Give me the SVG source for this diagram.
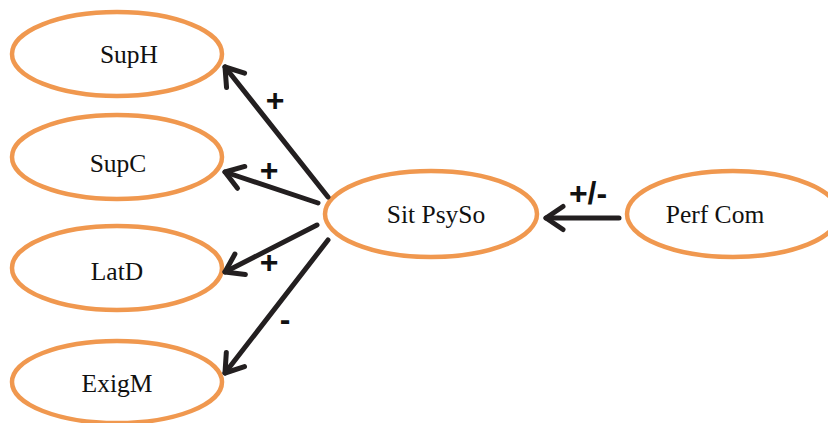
<svg xmlns="http://www.w3.org/2000/svg" width="828" height="423" viewBox="0 0 828 423">
<style>
.node ellipse{fill:#fff;stroke:#F0984F;stroke-width:4.5}
.node text{font-family:"Liberation Serif","Times New Roman",serif;font-size:25.5px;fill:#111;text-anchor:middle}
.conn line{stroke:#231F20;stroke-width:5;stroke-linecap:round}
.lbl{font-family:"Liberation Sans",Arial,sans-serif;font-weight:bold;font-size:32px;fill:#111;text-anchor:middle}
</style>
<defs>
<marker id="ah" markerUnits="userSpaceOnUse" markerWidth="30" markerHeight="30" refX="0" refY="0" viewBox="-25 -15 30 30" orient="auto">
<path d="M-17,-11.5 L0,0 L-17,11.5" fill="none" stroke="#231F20" stroke-width="5" stroke-linecap="round" stroke-linejoin="round"/>
</marker>
</defs>
<rect width="828" height="423" fill="#fff"/>
<g id="SupH" class="node"><ellipse cx="117" cy="54" rx="105" ry="42"/><text x="129" y="63">SupH</text></g>
<g id="SupC" class="node"><ellipse cx="117" cy="157" rx="105" ry="42"/><text x="118" y="172">SupC</text></g>
<g id="LatD" class="node"><ellipse cx="117" cy="268" rx="105" ry="42"/><text x="117" y="280">LatD</text></g>
<g id="ExigM" class="node"><ellipse cx="117" cy="382" rx="105" ry="41"/><text x="117" y="392">ExigM</text></g>
<g id="SitPsySo" class="node"><ellipse cx="431" cy="214" rx="106" ry="43"/><text x="436" y="223">Sit PsySo</text></g>
<g id="PerfCom" class="node"><ellipse cx="733" cy="214" rx="106" ry="43"/><text x="715" y="223">Perf Com</text></g>
<g id="connectors" class="conn">
<line x1="328" y1="197" x2="225" y2="67" marker-end="url(#ah)"/>
<line x1="318" y1="203" x2="225" y2="172" marker-end="url(#ah)"/>
<line x1="317" y1="225" x2="225" y2="272" marker-end="url(#ah)"/>
<line x1="328" y1="240" x2="225" y2="373" marker-end="url(#ah)"/>
<line x1="619" y1="218" x2="546" y2="218" marker-end="url(#ah)"/>
</g>
<g id="labels">
<text class="lbl" x="275" y="111">+</text>
<text class="lbl" x="269" y="181">+</text>
<text class="lbl" x="269" y="273">+</text>
<text class="lbl" x="285" y="330">-</text>
<text class="lbl" x="588" y="204">+/-</text>
</g>
</svg>
